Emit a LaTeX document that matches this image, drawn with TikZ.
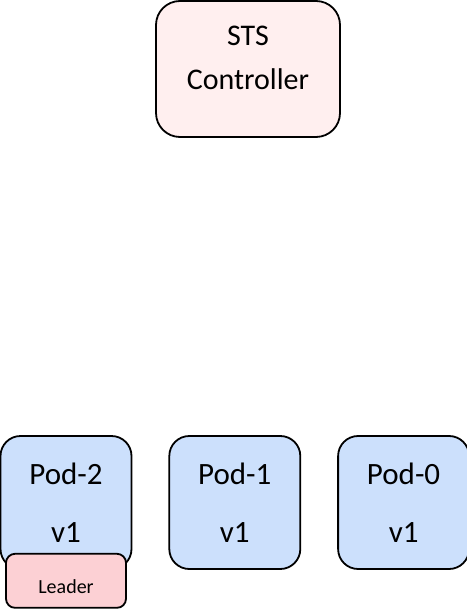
\documentclass[tikz,border=0pt]{standalone}
\usepackage{fontspec}
\setmainfont{Carlito}
\usetikzlibrary{positioning}
\definecolor{cpod}{HTML}{CCE0FC}
\definecolor{cctrl}{HTML}{FFEFEF}
\definecolor{clead}{HTML}{FCD0D4}
\begin{document}
\begin{tikzpicture}[x=1pt,y=1pt,line width=1.8pt,node distance=17pt and 36pt,
  box/.style={draw,align=center,inner sep=0pt},
  ctrl/.style={box,fill=cctrl,rounded corners=24pt,minimum width=184pt,
               minimum height=136pt,font=\fontsize{30}{44}\selectfont,text depth=22pt},
  pod/.style={box,fill=cpod,rounded corners=20pt,minimum width=131pt,
              minimum height=133pt,font=\fontsize{31}{58}\selectfont},
  lead/.style={box,fill=clead,rounded corners=9pt,minimum width=120pt,
               minimum height=54pt,font=\fontsize{20}{24}\selectfont,text height=25pt}]
\useasboundingbox (0,0) rectangle (466,-609);
\node[ctrl] (sts) at (248,-69) {STS\\Controller};
\node[pod] (pod2) at (66,-502.5) {Pod-2\\v1};
\node[pod,right=of pod2] (pod1) {Pod-1\\v1};
\node[pod,right=of pod1] (pod0) {Pod-0\\v1};
\node[lead,below=-17pt of pod2] (leader) {Leader};
\end{tikzpicture}
\end{document}
